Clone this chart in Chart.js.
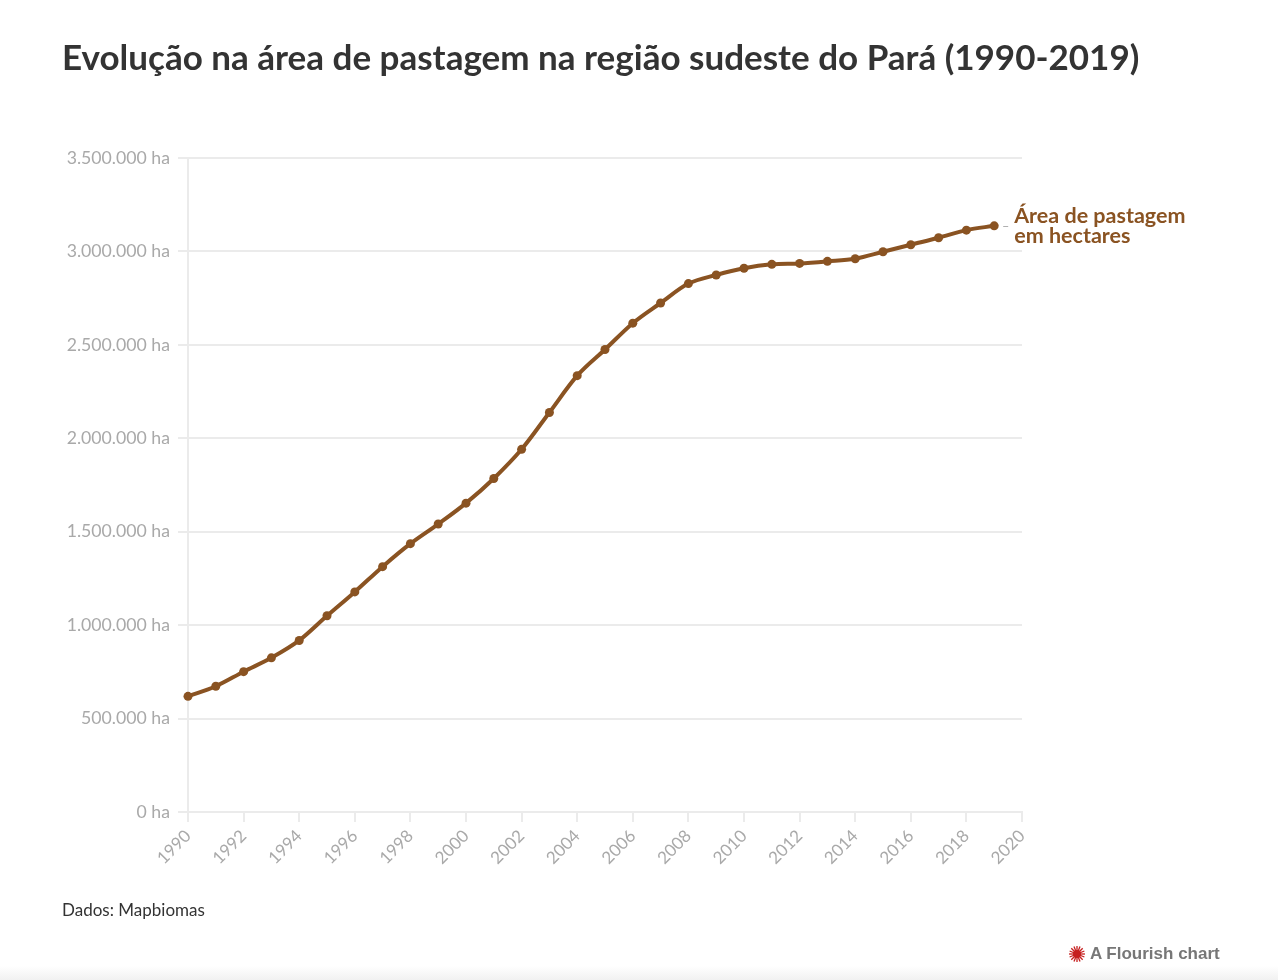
<!DOCTYPE html>
<html lang="pt-BR">
<head>
<meta charset="utf-8">
<title>Evolução na área de pastagem</title>
<script src="https://cdn.jsdelivr.net/npm/chart.js@4.4.1/dist/chart.umd.min.js"></script>
<style>
    html, body { margin: 0; padding: 0; background: #fff; }
    body { width: 1278px; height: 980px; position: relative; overflow: hidden; font-family: Lato, 'Noto Sans', sans-serif; }
    #chart-wrap { position: absolute; left: 0; top: 0; width: 1278px; height: 980px; }
    #title { position: absolute; left: 62px; top: 39px; margin: 0; font-size: 35px; line-height: 35px; font-weight: 700; color: #333; white-space: nowrap; }
    #source { position: absolute; left: 62px; top: 900px; font-size: 17px; line-height: 20px; color: #333; }
    #flourish { position: absolute; left: 1068px; top: 944px; display: flex; align-items: center; gap: 4px; font-family: 'Liberation Sans', Arial, sans-serif; font-weight: 700; font-size: 17px; color: #777; }
    #shade { position: absolute; left: 0; bottom: 0; width: 100%; height: 14px; background: linear-gradient(#fff, #f1f1f1); }
</style>
</head>
<body>
<div id="chart-wrap"><canvas id="pasture-chart" width="1278" height="980"></canvas></div>
<h1 id="title">Evolução na área de pastagem na região sudeste do Pará (1990-2019)</h1>
<div id="source">Dados: Mapbiomas</div>
<div id="flourish">
    <svg width="18" height="18" viewBox="-9 -9 18 18">
        <g stroke="#c61f1f" stroke-width="1.3">
            <line x1="-8" y1="0" x2="8" y2="0"/><line x1="0" y1="-8" x2="0" y2="8"/>
            <line x1="-5.7" y1="-5.7" x2="5.7" y2="5.7"/><line x1="-5.7" y1="5.7" x2="5.7" y2="-5.7"/>
            <line x1="-7.4" y1="-3" x2="7.4" y2="3"/><line x1="-7.4" y1="3" x2="7.4" y2="-3"/>
            <line x1="-3" y1="-7.4" x2="3" y2="7.4"/><line x1="3" y1="-7.4" x2="-3" y2="7.4"/>
        </g>
        <circle r="4" fill="#c61f1f"/>
    </svg>
    <span>A Flourish chart</span>
</div>
<div id="shade"></div>

<script>
// data
const years = [1990, 1991, 1992, 1993, 1994, 1995, 1996, 1997, 1998, 1999,
    2000, 2001, 2002, 2003, 2004, 2005, 2006, 2007, 2008, 2009,
    2010, 2011, 2012, 2013, 2014, 2015, 2016, 2017, 2018, 2019];
const pastureArea = [619000, 673000, 751000, 825000, 918000, 1050000, 1178000, 1313000, 1436000, 1541000,
    1653000, 1785000, 1941000, 2138000, 2335000, 2475000, 2616000, 2724000, 2828000, 2874000,
    2910000, 2931000, 2936000, 2947000, 2961000, 2998000, 3036000, 3073000, 3114000, 3137000];
const yTicks = [0, 500000, 1000000, 1500000, 2000000, 2500000, 3000000, 3500000];
const xTicks = [1990, 1992, 1994, 1996, 1998, 2000, 2002, 2004, 2006, 2008, 2010, 2012, 2014, 2016, 2018, 2020];
const seriesLabel = ['Área de pastagem', 'em hectares'];

const lineColor = '#8a5322';
const tickColor = '#a9a9a9';
const gridColor = '#ebebeb';

const formatHa = function (v) {
    return String(v).replace(/\B(?=(\d{3})+(?!\d))/g, '.') + ' ha';
};

const endLabelPlugin = {
    id: 'endLabel',
    afterDatasetsDraw: function (chart) {
        const meta = chart.getDatasetMeta(0);
        const last = meta.data[meta.data.length - 1];
        const ctx = chart.ctx;
        ctx.save();
        ctx.strokeStyle = '#b0b0b0';
        ctx.lineWidth = 1;
        ctx.beginPath();
        ctx.moveTo(last.x + 9, Math.round(last.y) + 0.5);
        ctx.lineTo(last.x + 14, Math.round(last.y) + 0.5);
        ctx.stroke();
        ctx.fillStyle = lineColor;
        ctx.font = '700 21.5px Lato, "Noto Sans", sans-serif';
        ctx.textBaseline = 'middle';
        ctx.fillText(seriesLabel[0], last.x + 20, last.y - 10);
        ctx.fillText(seriesLabel[1], last.x + 20, last.y + 10);
        ctx.restore();
    }
};

new Chart(document.getElementById('pasture-chart'), {
    type: 'line',
    data: {
        datasets: [
            {
                label: seriesLabel.join(' '),
                data: years.map((y, i) => ({ x: y, y: pastureArea[i] })),
                borderColor: lineColor,
                backgroundColor: lineColor,
                borderWidth: 4,
                pointRadius: 4.5,
                pointHoverRadius: 4.5,
                pointBackgroundColor: lineColor,
                pointBorderWidth: 0,
                cubicInterpolationMode: 'monotone',
                clip: false,
                fill: false
            }
        ]
    },
    options: {
        responsive: false,
        animation: false,
        layout: {
            padding: { left: 0, top: 158, right: 256, bottom: 108 }
        },
        plugins: {
            legend: { display: false },
            tooltip: { enabled: false }
        },
        scales: {
            x: {
                type: 'linear',
                min: 1990,
                max: 2020,
                afterBuildTicks: function (scale) {
                    scale.ticks = xTicks.map(v => ({ value: v }));
                },
                afterFit: function (scale) {
                    scale.height = 60;
                },
                grid: {
                    drawOnChartArea: false,
                    drawTicks: true,
                    tickLength: 10,
                    color: gridColor,
                    lineWidth: 2
                },
                border: { display: true, color: gridColor, width: 2 },
                ticks: {
                    color: tickColor,
                    font: { family: 'Lato', size: 17 },
                    maxRotation: 45,
                    minRotation: 45,
                    padding: 4,
                    autoSkip: false,
                    callback: v => String(v)
                }
            },
            y: {
                min: 0,
                max: 3500000,
                afterBuildTicks: function (scale) {
                    scale.ticks = yTicks.map(v => ({ value: v }));
                },
                afterFit: function (scale) {
                    scale.width = 188;
                },
                grid: {
                    color: gridColor,
                    lineWidth: 2,
                    drawTicks: true,
                    tickLength: 10
                },
                border: { display: true, color: gridColor, width: 2 },
                ticks: {
                    color: tickColor,
                    font: { family: 'Lato', size: 17.7 },
                    padding: 8,
                    callback: v => formatHa(v)
                }
            }
        }
    },
    plugins: [endLabelPlugin]
});
</script>
</body>
</html>
